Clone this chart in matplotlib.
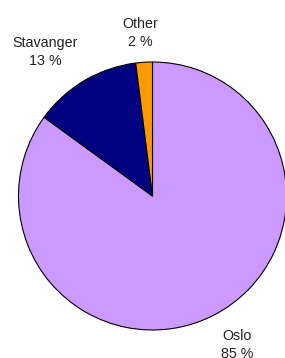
import matplotlib
matplotlib.use("Agg")
import matplotlib.pyplot as plt

cities = ["Oslo", "Stavanger", "Other"]
shares = [85, 13, 2]
colors = ["#CC99FF", "#000080", "#FF9900"]

plt.rcParams["font.family"] = ["Liberation Sans", "DejaVu Sans"]

fig = plt.figure(figsize=(2.85, 3.58), dpi=100)
ax = fig.add_axes([0, 0, 1, 1])

ax.pie(shares, colors=colors, startangle=90, counterclock=False,
       center=(152.5, 162), radius=134,
       wedgeprops={"edgecolor": "black", "linewidth": 0.8})
ax.set_xlim(0, 285)
ax.set_ylim(0, 358)
ax.set_aspect("equal")
ax.axis("off")

# label centres (pixel coords, y from top)
label_pos = {"Oslo": (237.5, 345), "Stavanger": (45, 52), "Other": (140.5, 33)}
for name, val in zip(cities, shares):
    x, y = label_pos[name]
    ax.text(x, 358 - y, "{}\n{} %".format(name, val), ha="center", va="center",
            fontsize=10.3, linespacing=1.45, color="#222222")

fig.savefig("out.png", dpi=100)
